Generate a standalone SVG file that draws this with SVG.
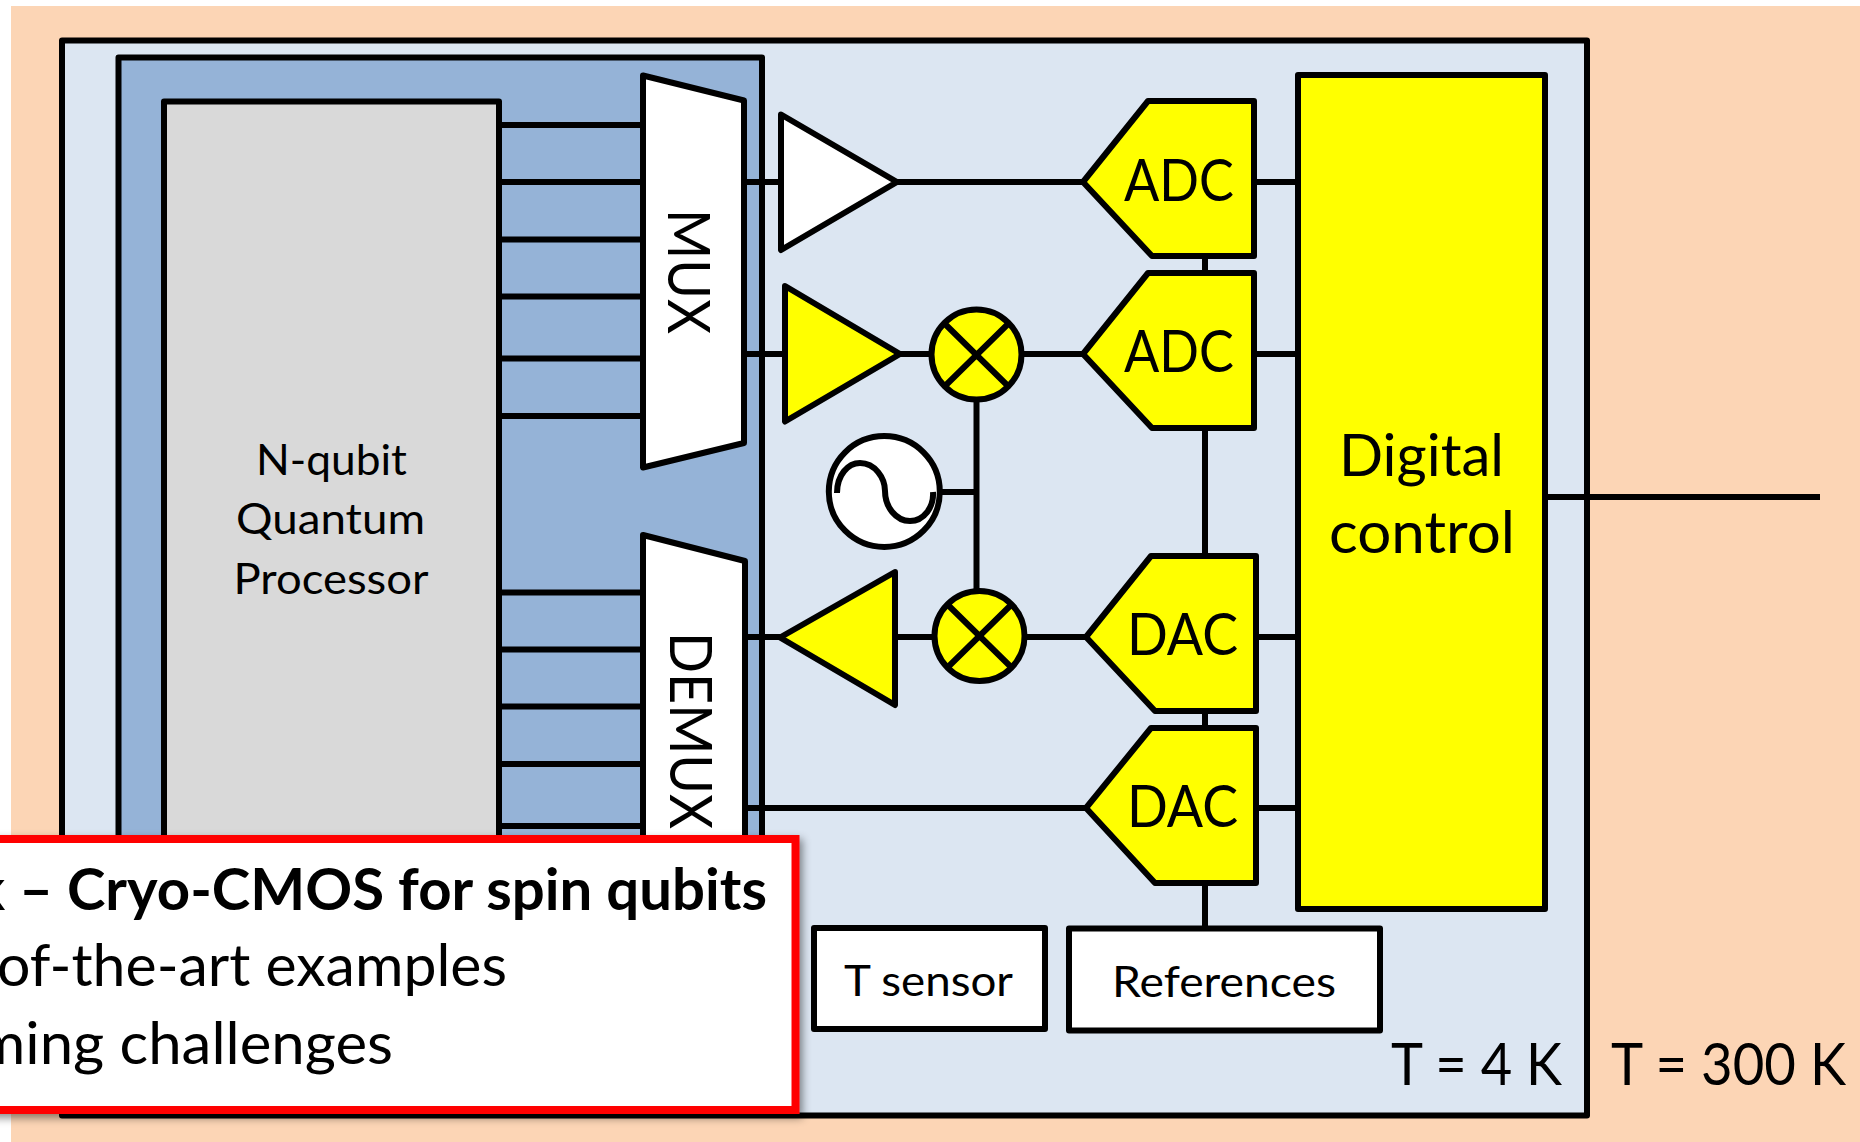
<svg xmlns="http://www.w3.org/2000/svg" width="1860" height="1142" viewBox="0 0 1860 1142">
<defs>
<filter id="shadow" x="-5%" y="-5%" width="110%" height="112%"><feDropShadow dx="3" dy="4" stdDeviation="4" flood-color="#000" flood-opacity="0.45"/></filter>
</defs>
<style>
.s{stroke:#000;stroke-width:6;stroke-linejoin:round}
.w{fill:#fff}.y{fill:#ff0}
.l{stroke:#000;stroke-width:6;fill:none}
text{font-family:Lato,"Liberation Sans",sans-serif;fill:#000}
.big{font-size:58px}.mid{font-size:43px}
</style>
<rect width="1860" height="1142" fill="#fff"/>
<rect x="11" y="6" width="1849" height="1136" fill="#fcd5b5"/>
<g id="cryostat-4k"><rect class="s" x="62" y="40.500" width="1525" height="1075" fill="#dce6f2"/></g>
<g id="chip-carrier"><rect class="s" x="118.500" y="57.500" width="643.500" height="1040" fill="#95b3d7"/></g>
<g id="processor">
<rect class="s" x="164" y="101.500" width="335" height="1000" fill="#d9d9d9"/>
<text class="mid" x="256" y="475" textLength="151" lengthAdjust="spacingAndGlyphs">N-qubit</text>
<text class="mid" x="236" y="534" textLength="189" lengthAdjust="spacingAndGlyphs">Quantum</text>
<text class="mid" x="233.500" y="594" textLength="195" lengthAdjust="spacingAndGlyphs">Processor</text>
</g>
<g id="connectors">
<path class="l" d="M499 125H643M499 182H643M499 239.500H643M499 296.500H643M499 358.500H643M499 416H643M499 592.500H643M499 649.500H643M499 706.500H643M499 764H643M499 826H643"/>
<path class="l" d="M744 182H781M897 182H1083M1254 182H1297M744 354H785M900 354H1083M1254 354H1297M745 637H781M895 637H1086M1256 637H1297M745 808H1086M1256 808H1297M1545 497H1820"/>
<path class="l" d="M1205 256V273M1205 428V556M1205 711V728M1205 883V928M976.500 400V590M942 492H977"/>
</g>
<g id="mux"><path class="s w" d="M643 75.500L744 100.500V443L643 467.500Z"/>
<text class="big" transform="translate(668,209) rotate(90)" textLength="125" lengthAdjust="spacingAndGlyphs">MUX</text></g>
<g id="demux"><path class="s w" d="M643 535L745 561V1000H643Z"/>
<text class="big" transform="translate(670,632) rotate(90)" textLength="197" lengthAdjust="spacingAndGlyphs">DEMUX</text></g>
<g id="amp-1"><path class="s w" d="M781 114.500L897 182L781 250Z"/></g>
<g id="amp-2"><path class="s y" d="M785 286L900 354L785 421.500Z"/></g>
<g id="amp-3"><path class="s y" d="M895 572L780 637.500L895 705Z"/></g>
<g id="mixer-1"><circle class="s y" cx="976.500" cy="354.500" r="45"/><path class="l" d="M945 324L1008 386M1008 324L945 386"/></g>
<g id="mixer-2"><circle class="s y" cx="979.500" cy="636" r="45"/><path class="l" d="M948 605L1011 667M1011 605L948 667"/></g>
<g id="oscillator"><circle class="s w" cx="884.300" cy="491.500" r="55.500"/>
<path class="l" d="M837 493C837 475 848 463 860 463C875 463 885 478 885 491C885 507 896 521 910 521C924 521 934 507 933 492"/></g>
<g id="adc-1"><path class="s y" d="M1083 182L1148 101H1254V256H1152Z"/><text class="big" x="1124" y="201" textLength="110" lengthAdjust="spacingAndGlyphs">ADC</text></g>
<g id="adc-2"><path class="s y" d="M1083 354L1148 273H1254V428H1152Z"/><text class="big" x="1124" y="372" textLength="110" lengthAdjust="spacingAndGlyphs">ADC</text></g>
<g id="dac-1"><path class="s y" d="M1086 637L1151 556H1256V711H1155Z"/><text class="big" x="1127" y="655" textLength="111" lengthAdjust="spacingAndGlyphs">DAC</text></g>
<g id="dac-2"><path class="s y" d="M1086 808L1151 728H1256V883H1155Z"/><text class="big" x="1127" y="827" textLength="111" lengthAdjust="spacingAndGlyphs">DAC</text></g>
<g id="digital-control"><rect class="s y" x="1298" y="75" width="247" height="834"/>
<text class="big" x="1339" y="475.500" textLength="165" lengthAdjust="spacingAndGlyphs">Digital</text>
<text class="big" x="1329" y="552.500" textLength="186" lengthAdjust="spacingAndGlyphs">control</text></g>
<g id="t-sensor"><rect class="s w" x="814" y="928" width="231" height="101"/><text class="mid" x="844" y="996" textLength="169" lengthAdjust="spacingAndGlyphs">T sensor</text></g>
<g id="references"><rect class="s w" x="1069" y="928.500" width="311" height="102"/><text class="mid" x="1112" y="997" textLength="224" lengthAdjust="spacingAndGlyphs">References</text></g>
<g id="temps">
<text class="big" x="1391" y="1084.500" textLength="171" lengthAdjust="spacingAndGlyphs">T = 4 K</text>
<text class="big" x="1611" y="1084.500" textLength="235" lengthAdjust="spacingAndGlyphs">T = 300 K</text>
</g>
<g id="callout">
<rect x="-40" y="839" width="835.500" height="271" fill="#fff" stroke="#f00" stroke-width="8" filter="url(#shadow)"/>
<text class="big" x="-26" y="910" font-weight="700" textLength="793" lengthAdjust="spacingAndGlyphs">k – Cryo-CMOS for spin qubits</text>
<text class="big" x="-3" y="986" textLength="510" lengthAdjust="spacingAndGlyphs">of-the-art examples</text>
<text class="big" x="-24" y="1063.500" textLength="417" lengthAdjust="spacingAndGlyphs">ming challenges</text>
</g>
</svg>
